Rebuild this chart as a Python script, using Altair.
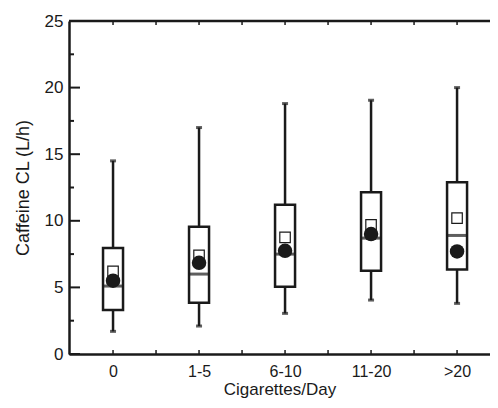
import json
import altair as alt
import pandas as pd

cats = ["0", "1-5", "6-10", "11-20", ">20"]
whisker_lo = [1.7, 2.1, 3.05, 4.05, 3.8]
q1 = [3.3, 3.85, 5.05, 6.25, 6.35]
median = [5.1, 6.0, 7.5, 8.7, 8.9]
q3 = [7.95, 9.55, 11.2, 12.15, 12.9]
whisker_hi = [14.5, 17.0, 18.8, 19.05, 20.0]
mean_sq = [6.2, 7.4, 8.75, 9.7, 10.2]
mean_circ = [5.5, 6.85, 7.75, 9.0, 7.7]

y_major = [0, 5, 10, 15, 20, 25]
y_minor = [2.5, 7.5, 12.5, 17.5, 22.5]
x_ticks = [0, 0.5, 1, 1.5, 2, 2.5, 3, 3.5, 4]

df = pd.DataFrame({
    "idx": list(range(len(cats))),
    "cat": cats,
    "lo": whisker_lo, "q1": q1, "med": median, "q3": q3, "hi": whisker_hi,
    "sq": mean_sq, "circ": mean_circ,
})

W, H = 421, 333
INK = "#1a1a1a"
FONT = "Liberation Sans"

label_expr = json.dumps(cats) + "[datum.value]"

xscale = alt.Scale(domain=[-0.512, 4.383], nice=False, zero=False, padding=0)
yscale = alt.Scale(domain=[0, 25], nice=False, zero=True, padding=0)

X = alt.X("idx:Q", scale=xscale,
          axis=alt.Axis(values=[0, 1, 2, 3, 4], labelExpr=label_expr, ticks=False, tickSize=0,
                        grid=False, domainWidth=2.5, domainColor=INK, labelFontSize=16,
                        labelPadding=9, labelColor=INK, labelFont=FONT,
                        title="Cigarettes/Day", titleFontSize=17, titleFont=FONT,
                        titleFontWeight="normal", titleColor=INK, titlePadding=2))
Yax = alt.Axis(values=y_major, ticks=False, tickSize=0, grid=False, domainWidth=2.5,
               domainColor=INK, labelFontSize=17, labelPadding=6, labelColor=INK,
               labelFont=FONT, title="Caffeine CL (L/h)", titleFontSize=18, titleFont=FONT,
               titleFontWeight="normal", titleColor=INK, titlePadding=12)

base = alt.Chart(df)

whisk = base.mark_rule(strokeWidth=2.5, color=INK).encode(
    x=X, y=alt.Y("lo:Q", scale=yscale, axis=Yax), y2="hi:Q")
cap_lo = base.mark_tick(orient="horizontal", size=6, thickness=3, color=INK).encode(
    x="idx:Q", y="lo:Q")
cap_hi = base.mark_tick(orient="horizontal", size=6, thickness=3, color=INK).encode(
    x="idx:Q", y="hi:Q")
box = base.mark_bar(orient="vertical", size=20, fill="white", stroke=INK, strokeWidth=2.5).encode(
    x="idx:Q", y="q1:Q", y2="q3:Q")
med = base.mark_tick(orient="horizontal", size=21, thickness=3, color=INK).encode(
    x="idx:Q", y="med:Q")
sq = base.mark_point(shape="square", filled=False, size=110, strokeWidth=1.2, color=INK, opacity=1).encode(
    x="idx:Q", y="sq:Q")
circ = base.mark_circle(size=210, color=INK, opacity=1).encode(
    x="idx:Q", y="circ:Q")

top_line = alt.Chart(pd.DataFrame({"v": [25]})).mark_rule(strokeWidth=2.5, color=INK).encode(
    y=alt.Y("v:Q", scale=yscale))

ymaj = alt.Chart(pd.DataFrame({"v": y_major})).mark_rule(strokeWidth=2, color=INK).encode(
    y=alt.Y("v:Q", scale=yscale), x=alt.value(0), x2=alt.value(11))
ymin = alt.Chart(pd.DataFrame({"v": y_minor})).mark_rule(strokeWidth=2, color=INK).encode(
    y=alt.Y("v:Q", scale=yscale), x=alt.value(0), x2=alt.value(5))
xt_bot = alt.Chart(pd.DataFrame({"v": x_ticks})).mark_rule(strokeWidth=1.5, color=INK).encode(
    x=alt.X("v:Q", scale=xscale), y=alt.value(H), y2=alt.value(H - 4))
xt_top = alt.Chart(pd.DataFrame({"v": x_ticks})).mark_rule(strokeWidth=1.5, color=INK).encode(
    x=alt.X("v:Q", scale=xscale), y=alt.value(0), y2=alt.value(4))

chart = alt.layer(
    whisk, cap_lo, cap_hi, box, med, sq, circ, top_line, ymaj, ymin, xt_bot, xt_top
).properties(
    width=W, height=H,
    autosize=alt.AutoSizeParams(type="none"),
    padding={"left": 61, "top": 13, "right": 0, "bottom": 46},
    background="white",
).configure_view(stroke=None)

chart.save("out.html", embed_options={"renderer": "svg", "actions": False})
